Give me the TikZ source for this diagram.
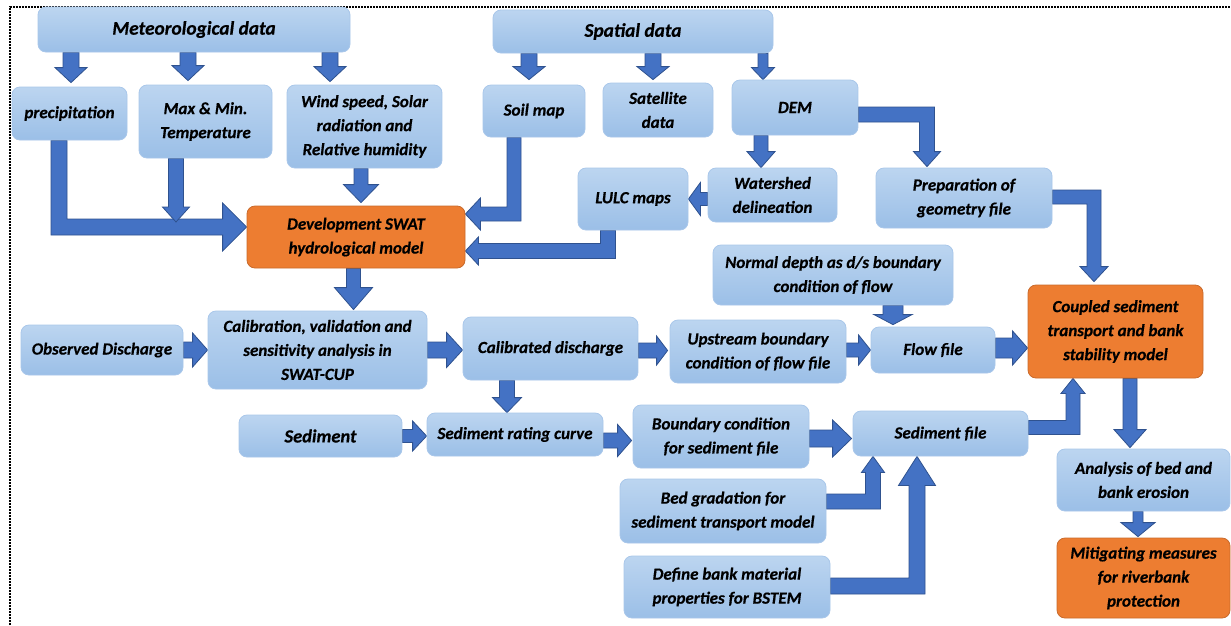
\documentclass[tikz,border=0pt]{standalone}
\usepackage{fontspec}
\setmainfont{Carlito}[BoldItalicFeatures={FakeBold=0.5}]
\usetikzlibrary{calc}
\pgfdeclarelayer{bg}
\pgfsetlayers{bg,main}
\definecolor{boxtop}{HTML}{BCD5F0}
\definecolor{boxbot}{HTML}{9BBFE7}
\definecolor{boxline}{HTML}{A9C7EA}
\definecolor{arrfill}{HTML}{4472C4}
\definecolor{arrline}{HTML}{2F528F}
\definecolor{orfill}{HTML}{ED7D31}
\definecolor{orline}{HTML}{C96A2B}
\tikzset{
 basebox/.style={rounded corners=8pt, line width=0.8pt, align=center, inner sep=0pt,
   text=black, font=\fontsize{17}{24}\selectfont\bfseries\itshape},
 box/.style={basebox, top color=boxtop, bottom color=boxbot, draw=boxline},
 obox/.style={basebox, fill=orfill, draw=orline},
 title/.style={font=\fontsize{19.3}{24}\selectfont\bfseries\itshape},
 barrow/.style={fill=arrfill, draw=arrline, line width=0.8pt, line join=miter},
 frameline/.style={draw=black, line width=1.6pt, dash pattern=on 1.6pt off 1.4pt},
}
% straight arrows: #1 start, #2 end, #3 half shaft, #4 half head, #5 head length
\newcommand\arrD[5]{\filldraw[barrow] let \p1=#1, \p2=#2 in
 (\x1-#3pt,\y1) -- (\x1-#3pt,\y2+#5pt) -- (\x1-#4pt,\y2+#5pt) -- (\x1,\y2) --
 (\x1+#4pt,\y2+#5pt) -- (\x1+#3pt,\y2+#5pt) -- (\x1+#3pt,\y1) -- cycle;}
\newcommand\arrR[5]{\filldraw[barrow] let \p1=#1, \p2=#2 in
 (\x1,\y1+#3pt) -- (\x2-#5pt,\y1+#3pt) -- (\x2-#5pt,\y1+#4pt) -- (\x2,\y1) --
 (\x2-#5pt,\y1-#4pt) -- (\x2-#5pt,\y1-#3pt) -- (\x1,\y1-#3pt) -- cycle;}
\newcommand\arrL[5]{\filldraw[barrow] let \p1=#1, \p2=#2 in
 (\x1,\y1+#3pt) -- (\x2+#5pt,\y1+#3pt) -- (\x2+#5pt,\y1+#4pt) -- (\x2,\y1) --
 (\x2+#5pt,\y1-#4pt) -- (\x2+#5pt,\y1-#3pt) -- (\x1,\y1-#3pt) -- cycle;}
% elbow arrows
\newcommand\elbVR[5]{\filldraw[barrow] let \p1=#1, \p2=#2 in
 (\x1-#3pt,\y1) -- (\x1-#3pt,\y2-#3pt) -- (\x2-#5pt,\y2-#3pt) -- (\x2-#5pt,\y2-#4pt) -- (\x2,\y2) --
 (\x2-#5pt,\y2+#4pt) -- (\x2-#5pt,\y2+#3pt) -- (\x1+#3pt,\y2+#3pt) -- (\x1+#3pt,\y1) -- cycle;}
\newcommand\elbVL[5]{\filldraw[barrow] let \p1=#1, \p2=#2 in
 (\x1+#3pt,\y1) -- (\x1+#3pt,\y2-#3pt) -- (\x2+#5pt,\y2-#3pt) -- (\x2+#5pt,\y2-#4pt) -- (\x2,\y2) --
 (\x2+#5pt,\y2+#4pt) -- (\x2+#5pt,\y2+#3pt) -- (\x1-#3pt,\y2+#3pt) -- (\x1-#3pt,\y1) -- cycle;}
\newcommand\elbHD[5]{\filldraw[barrow] let \p1=#1, \p2=#2 in
 (\x1,\y1+#3pt) -- (\x2+#3pt,\y1+#3pt) -- (\x2+#3pt,\y2+#5pt) -- (\x2+#4pt,\y2+#5pt) -- (\x2,\y2) --
 (\x2-#4pt,\y2+#5pt) -- (\x2-#3pt,\y2+#5pt) -- (\x2-#3pt,\y1-#3pt) -- (\x1,\y1-#3pt) -- cycle;}
\newcommand\elbHU[5]{\filldraw[barrow] let \p1=#1, \p2=#2 in
 (\x1,\y1-#3pt) -- (\x2+#3pt,\y1-#3pt) -- (\x2+#3pt,\y2-#5pt) -- (\x2+#4pt,\y2-#5pt) -- (\x2,\y2) --
 (\x2-#4pt,\y2-#5pt) -- (\x2-#3pt,\y2-#5pt) -- (\x2-#3pt,\y1+#3pt) -- (\x1,\y1+#3pt) -- cycle;}

\begin{document}
\begin{tikzpicture}[x=1pt,y=-1pt]
\useasboundingbox (0,0) rectangle (1231,625);
\begin{pgfonlayer}{bg}
\fill[white] (0,0) rectangle (1231,625);
\end{pgfonlayer}
\coordinate (fbl) at (10,625);
\coordinate (ftl) at (10,7);
\coordinate (ftr) at (1231,7);
\draw[frameline] (fbl) -- (ftl) -- (ftr);

% boxes
\node[box, title, minimum width=312pt, minimum height=45pt] (met) at (194,29.5) {Meteorological data};
\node[box, minimum width=115pt, minimum height=53pt] (precip) at (69.5,113.5) {precipitation};
\node[box, minimum width=133pt, minimum height=73pt] (temp) at (205.5,121.5) {Max \& Min.\\Temperature};
\node[box, minimum width=155pt, minimum height=83pt] (wind) at (364.5,126.5) {Wind speed, Solar\\radiation and\\Relative humidity};
\node[obox, minimum width=218pt, minimum height=62pt] (swat) at (356,237) {Development SWAT\\hydrological model};
\node[box, title, minimum width=280pt, minimum height=43pt] (spatial) at (633,31.5) {Spatial data};
\node[box, minimum width=102pt, minimum height=52pt] (soil) at (534,111) {Soil map};
\node[box, minimum width=110pt, minimum height=54pt] (sat) at (658,110) {Satellite\\data};
\node[box, minimum width=126pt, minimum height=55pt] (dem) at (795,107.5) {DEM};
\node[box, minimum width=129pt, minimum height=54pt] (wshed) at (772.5,195) {Watershed\\delineation};
\node[box, minimum width=110pt, minimum height=62pt] (lulc) at (633,199) {LULC maps};
\node[box, minimum width=176pt, minimum height=60pt] (prep) at (964,198) {Preparation of\\geometry file};
\node[box, minimum width=240pt, minimum height=60pt] (normal) at (833,275) {Normal depth as d/s boundary\\condition of flow};
\node[box, minimum width=124pt, minimum height=46pt] (flow) at (933,350) {Flow file};
\node[obox, minimum width=175pt, minimum height=93pt] (coupled) at (1115.5,331.5) {Coupled sediment\\transport and bank\\stability model};
\node[box, minimum width=162pt, minimum height=50pt] (obs) at (102,350) {Observed Discharge};
\node[box, minimum width=219pt, minimum height=78pt] (calib) at (317.5,350) {Calibration, validation and\\sensitivity analysis in\\SWAT-CUP};
\node[box, minimum width=175pt, minimum height=63pt] (caldis) at (550.5,348.5) {Calibrated discharge};
\node[box, minimum width=176pt, minimum height=63pt] (up) at (758,351.5) {Upstream boundary\\condition of flow file};
\node[box, minimum width=163pt, minimum height=42pt, font=\fontsize{18.5}{24}\selectfont\bfseries\itshape] (sed) at (320.5,436) {Sediment};
\node[box, minimum width=176pt, minimum height=43pt] (rating) at (515,434.5) {Sediment rating curve};
\node[box, minimum width=176pt, minimum height=63pt] (bcsed) at (721,436.5) {Boundary condition\\for sediment file};
\node[box, minimum width=175pt, minimum height=45pt] (sedfile) at (940.5,433.5) {Sediment file};
\node[box, minimum width=173pt, minimum height=62pt] (analysis) at (1143.5,480) {Analysis of bed and\\bank erosion};
\node[obox, minimum width=173pt, minimum height=80pt] (mitig) at (1143.5,578) {Mitigating measures\\for riverbank\\protection};
\node[box, minimum width=206pt, minimum height=64pt] (bed) at (723,511) {Bed gradation for\\sediment transport model};
\node[box, minimum width=206pt, minimum height=62pt] (define) at (727,587) {Define bank material\\properties for BSTEM};

% connectors
\begin{pgfonlayer}{bg}
\arrD{($(precip.north |- met.south)+(1.5,0)$)}{($(precip.north)+(0,-4)$)}{8}{16}{15}
\arrD{($(temp.north |- met.south)+(-17.5,0)$)}{($(temp.north)+(0,-4)$)}{8}{16}{15}
\arrD{($(wind.north |- met.south)+(-34.5,0)$)}{($(wind.north)+(0,-3)$)}{8}{16}{15}
\elbVR{($(precip.south)+(-10.5,0)$)}{($(swat.west)+(0,-10)$)}{8}{24}{24}
\arrD{($(temp.south)+(-29.5,0)$)}{($(swat.west)+(0,-15)$)}{7.5}{13.5}{15}
\arrD{($(wind.south)+(-3.5,0)$)}{($(swat.north)+(0,-3)$)}{7}{17.5}{18}
\arrD{($(soil.north |- spatial.south)+(-5,0)$)}{($(soil.north)+(0,-5)$)}{8}{16}{13}
\arrD{($(sat.north |- spatial.south)+(-5,0)$)}{($(sat.north)+(0,-3)$)}{8}{16}{13}
\arrD{($(dem.north |- spatial.south)+(-32,0)$)}{(dem.north)}{5}{11.5}{12}
\elbVL{($(soil.south)+(-20,0)$)}{($(swat.east)+(0,-23)$)}{7}{16}{15}
\elbVL{($(lulc.south)+(-25,0)$)}{($(swat.east)+(0,14)$)}{7.5}{14}{13}
\arrL{($(wshed.west)+(0,4)$)}{(lulc.east)}{6.5}{16.5}{12}
\arrD{($(wshed.north |- dem.south)+(-11.5,0)$)}{(wshed.north)}{7}{14}{16}
\elbHD{($(dem.east)+(0,7)$)}{($(prep.north)+(-37,-1)$)}{7.5}{13.5}{15}
\elbHD{($(prep.east)+(0,-1)$)}{($(coupled.north)+(-21.5,-3)$)}{7}{14}{15}
\arrD{($(flow.north |- normal.south)+(-40,0)$)}{($(flow.north)+(0,-2)$)}{10}{19}{10}
\arrR{($(flow.east)+(0,-2)$)}{(coupled.west)}{10}{17}{15}
\arrR{(obs.east)}{(calib.west)}{8}{17}{15}
\arrD{($(swat.south)+(-2.5,0)$)}{($(calib.north)+(0,-1)$)}{7}{19}{22}
\arrR{(calib.east)}{(caldis.west)}{8}{17.5}{16}
\arrR{($(caldis.east)+(0,2)$)}{($(up.west)+(-2,0)$)}{7.5}{14.5}{11}
\arrR{($(up.east)+(0,-1.5)$)}{(flow.west)}{7}{15}{12}
\arrD{($(caldis.south)+(-43.5,0)$)}{(rating.north)}{7.5}{14.5}{15}
\arrR{(sed.east)}{(rating.west)}{6.5}{15}{14}
\arrR{($(rating.east)+(0,6)$)}{($(bcsed.west)+(-1,0)$)}{7.5}{16}{14}
\arrR{($(bcsed.east)+(0,2)$)}{($(sedfile.west)+(-1,0)$)}{8.5}{18.5}{19}
\elbHU{($(sedfile.east)+(0,-6)$)}{($(coupled.south)+(-42.5,0)$)}{7}{12}{15}
\arrD{($(coupled.south)+(14.5,0)$)}{($(analysis.north)+(0,-1)$)}{7}{16}{18}
\arrD{($(analysis.south)+(-5.5,0)$)}{($(mitig.north)+(0,-1)$)}{5}{17}{14}
\elbHU{($(bed.east)+(0,-9.5)$)}{($(sedfile.south)+(-67.5,0)$)}{7.5}{11.5}{16}
\elbHU{($(define.east)+(0,-1)$)}{($(sedfile.south)+(-23.5,0)$)}{8}{18.5}{29}
\end{pgfonlayer}
\end{tikzpicture}
\end{document}
